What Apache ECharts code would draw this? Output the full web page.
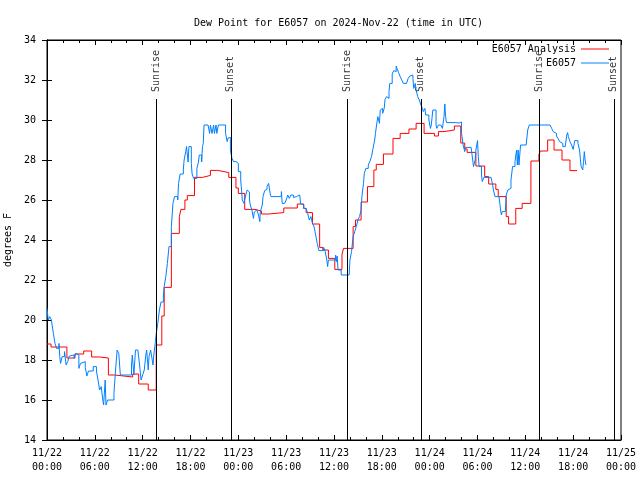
<!DOCTYPE html>
<html><head><meta charset="utf-8">
<script src="https://cdn.jsdelivr.net/npm/echarts@6/dist/echarts.min.js"></script>
<style>html,body{margin:0;padding:0;background:#fff}#c{width:640px;height:480px}</style>
</head><body><div id="c"></div>
<script>
const FONT = '"DejaVu Sans Mono", "Liberation Mono", monospace';
const titleText = 'Dew Point for E6057 on 2024-Nov-22 (time in UTC)';
const yAxisName = 'degrees F';
const dayLabels = ['11/22', '11/23', '11/24', '11/25'];
const seriesNames = ['E6057 Analysis', 'E6057'];

// hours since 2024-11-22 00:00 UTC
const analysisHours = [0,0.5,2.5,3.5,4.6,5.6,6.6,7.7,8.5,10.75,11.5,12.7,13.7,14.4,14.7,15.6,16.6,16.8,17.3,17.6,18.5,19.5,20.5,21.4,22.2,22.8,23.7,24.0,24.8,26.1,26.9,27.8,29.7,31.4,32.2,32.5,33.3,34.2,34.6,35.3,36.1,37.0,37.2,38.4,38.7,39.4,40.2,41.0,41.3,42.2,43.4,44.3,45.4,46.3,47.3,48.6,49.1,49.8,51.1,51.9,52.4,52.7,53.8,54.9,55.4,56.3,56.6,57.6,57.9,58.8,59.6,60.7,61.7,61.9,62.8,63.6,64.6,65.6,66.5];
const analysisValues = [18.8,18.65,18.1,18.3,18.45,18.15,18.1,17.25,17.15,17.3,16.8,16.5,18.75,20.2,21.63,24.33,25.17,25.53,26.0,26.22,27.13,27.23,27.48,27.42,27.37,27.13,26.6,26.33,25.53,25.45,25.3,25.37,25.6,25.8,25.58,25.37,24.8,23.63,23.5,23.08,22.53,23.28,23.58,24.67,25.0,25.9,26.67,27.5,27.78,28.3,29.08,29.33,29.55,29.83,29.33,29.2,29.42,29.5,29.7,28.85,28.55,28.38,27.7,27.17,26.8,26.53,26.17,25.17,24.8,25.58,25.83,27.95,28.28,28.45,29.0,28.5,28.0,27.47,27.47];

const obsHours = [0,0.15,0.35,0.55,0.8,1.0,1.2,1.5,1.6,1.7,1.9,2.2,2.4,2.6,2.8,3.0,3.4,3.6,3.8,4.0,4.2,4.4,4.8,5.0,5.2,5.8,6.2,6.4,6.6,6.8,7.0,7.1,7.3,7.4,7.6,8.4,8.6,8.8,9.0,9.2,10.6,10.7,10.9,11.1,11.4,11.6,11.8,12.0,12.2,12.4,12.5,12.7,12.8,13.0,13.1,13.3,13.4,13.6,13.7,13.9,14.1,14.3,14.6,14.7,14.9,15.1,15.3,15.6,15.8,16.0,16.4,16.5,16.7,17.1,17.2,17.4,17.5,17.7,17.8,18.0,18.1,18.2,18.4,18.8,19.0,19.1,19.4,19.5,19.6,19.7,20.2,20.4,20.5,20.7,20.9,21.0,21.2,21.3,21.5,22.0,22.2,22.4,22.6,22.7,22.9,23.0,23.2,23.4,23.7,24.0,24.3,24.5,24.7,24.9,25.1,25.2,25.4,25.5,25.7,25.9,26.0,26.1,26.3,26.5,26.7,26.75,26.9,27.0,27.1,27.3,27.4,27.6,27.8,28.0,28.1,29.1,29.4,29.5,29.8,30.0,30.2,30.4,30.6,30.9,31.1,31.3,31.5,31.7,31.8,32.0,32.2,32.5,32.7,32.9,33.1,33.3,33.5,33.7,33.9,34.1,34.7,34.9,35.1,35.2,35.3,36.2,36.3,36.4,36.5,36.9,37.9,38.0,38.2,38.4,38.6,38.8,39.0,39.2,39.4,39.5,39.7,39.8,40.0,40.3,40.5,40.7,40.9,41.1,41.2,41.4,41.5,41.7,41.8,42.0,42.1,42.3,42.4,42.6,42.8,42.9,43.0,43.3,43.5,43.7,43.8,43.9,44.1,44.3,44.5,44.7,45.1,45.3,45.5,45.7,45.9,46.0,46.2,46.3,46.5,46.7,46.9,47.1,47.2,47.4,47.5,47.9,48.1,48.2,48.4,48.6,48.8,48.9,49.1,49.4,49.6,49.8,49.9,50.0,50.1,51.2,51.7,52.0,52.2,52.4,52.5,53.2,53.4,53.5,53.7,53.8,54.0,54.1,54.2,54.4,54.5,54.6,54.8,55.7,55.9,56.0,56.2,56.7,56.8,56.9,57.0,57.1,57.5,57.6,57.8,58.0,58.2,58.4,58.7,58.9,59.0,59.1,59.2,59.4,60.1,60.3,60.5,63.1,63.3,63.5,63.7,63.9,64.1,64.3,64.5,64.7,65.0,65.2,65.3,65.4,65.6,65.8,66.0,66.2,66.4,66.6,66.8,66.9,67.0,67.2,67.3,67.4,67.5,67.6];
const obsValues = [20.58,20.0,20.17,20.0,19.33,18.83,18.58,18.83,18.17,17.83,18.17,18.42,17.75,17.92,18.2,18.25,18.08,18.33,18.25,17.58,17.83,17.92,17.63,17.2,17.45,17.67,17.45,17.0,16.5,16.67,16.0,15.75,17.0,15.75,16.0,16.33,17.5,18.5,18.33,17.25,17.75,18.25,17.25,18.5,18.4,17.8,17.0,17.25,17.5,18.25,18.5,17.5,18.17,18.5,18.25,17.75,18.25,18.92,19.33,19.83,20.5,20.9,21.2,21.67,22.17,22.83,23.67,24.67,25.83,26.17,26.0,26.83,27.3,27.5,28.0,28.42,28.67,27.9,28.67,28.67,27.83,27.3,27.08,27.58,27.9,28.25,27.9,28.67,28.83,29.75,29.75,29.33,29.75,29.33,29.75,29.33,29.75,29.33,29.75,29.83,29.75,29.33,28.92,29.1,29.13,28.5,28.08,27.92,27.83,27.42,27.0,26.0,25.83,26.2,26.5,26.4,26.0,25.75,25.5,25.08,25.4,25.5,25.53,25.3,24.92,25.4,25.4,25.75,26.17,26.47,26.53,26.67,26.83,26.3,26.17,26.2,26.42,25.83,25.75,26.0,26.25,26.08,26.25,26.13,26.17,26.08,26.25,26.3,25.83,25.75,25.58,25.5,25.33,25.0,25.17,24.83,24.67,24.25,23.83,23.47,23.63,23.42,23.0,22.67,23.0,23.25,22.92,23.2,22.5,22.25,22.25,23.0,23.42,24.17,24.42,24.67,25.0,25.17,25.5,26.17,26.83,27.33,27.58,27.75,27.92,28.17,28.58,29.0,29.33,29.92,30.17,29.83,30.5,30.58,30.33,30.58,31.03,31.17,31.08,31.42,31.83,32.3,32.47,32.42,32.7,32.58,32.37,32.17,32.0,31.83,31.87,32.08,32.2,32.25,32.08,31.58,31.83,31.5,31.17,31.0,30.75,30.58,30.42,30.58,30.25,30.0,29.58,29.75,30.5,30.5,29.75,29.58,29.75,29.8,29.58,30.17,30.8,30.17,29.87,29.85,29.9,29.33,28.75,28.42,28.63,28.63,28.0,27.67,28.0,28.5,28.97,28.17,27.67,27.67,27.25,26.92,27.13,27.17,26.75,26.5,26.17,26.2,25.83,25.5,25.25,25.42,25.5,26.25,26.5,26.58,27.0,27.67,27.92,28.5,27.75,28.5,27.75,28.75,28.75,29.5,29.75,29.75,29.58,29.42,29.33,29.2,29.08,28.92,28.83,28.67,28.67,29.25,29.37,29.17,28.92,28.75,28.53,28.97,28.97,28.83,28.5,28.08,27.67,27.5,27.92,28.42,28.0,27.75];

const eventHours = [13.7, 23.05, 37.7, 46.9, 61.8, 71.1];
const eventNames = ['Sunrise', 'Sunset', 'Sunrise', 'Sunset', 'Sunrise', 'Sunset'];
const eventLineTop = 31.05;
const eventLabelAt = 31.4;

const zip = (a, b) => a.map((v, i) => [v, b[i]]);
const txt = { fontFamily: FONT, fontSize: 10, color: '#000' };
const black = { color: '#000', width: 1 };

const xCommon = {
  type: 'value', min: 0, max: 72, interval: 6,
  axisLine: { show: true, lineStyle: black },
  axisTick: { show: true, inside: true, length: 5, lineStyle: black },
  minorTick: { show: true, splitNumber: 3, length: 3, lineStyle: black },
  splitLine: { show: false }, minorSplitLine: { show: false }
};
const yCommon = {
  type: 'value', min: 14, max: 34, interval: 2,
  axisLine: { show: true, lineStyle: black },
  axisTick: { show: true, inside: true, length: 5, lineStyle: black },
  splitLine: { show: false }
};

const chart = echarts.init(document.getElementById('c'), null, { renderer: 'canvas' });
chart.setOption({
  animation: false,
  backgroundColor: '#fff',
  title: { text: titleText, left: 189, top: 13, textStyle: Object.assign({ fontWeight: 'normal' }, txt) },
  legend: {
    data: seriesNames, orient: 'vertical', right: 26, top: 37, align: 'right',
    icon: 'rect', itemWidth: 28, itemHeight: 1, itemGap: 0,
    textStyle: Object.assign({ lineHeight: 14 }, txt)
  },
  grid: { left: 47, right: 19, top: 40, bottom: 40, containLabel: false, outerBoundsMode: 'none',
    show: true, borderColor: '#000', borderWidth: 1 },
  xAxis: [
    Object.assign({}, xCommon, {
      position: 'bottom',
      axisLabel: Object.assign({ lineHeight: 14, margin: 6,
        formatter: v => dayLabels[Math.floor(v / 24)] + '\n' + String(v % 24).padStart(2, '0') + ':00' }, txt)
    }),
    Object.assign({}, xCommon, { position: 'top', axisLabel: { show: false } })
  ],
  yAxis: [
    Object.assign({}, yCommon, {
      position: 'left', name: yAxisName, nameLocation: 'middle', nameGap: 30, nameRotate: 90,
      nameTextStyle: txt, axisLabel: Object.assign({ margin: 11 }, txt)
    }),
    Object.assign({}, yCommon, { position: 'right', axisLabel: { show: false } })
  ],
  series: [
    { name: seriesNames[0], type: 'line', step: 'end', showSymbol: false, symbol: 'none',
      data: zip(analysisHours, analysisValues), itemStyle: { color: '#ff0000' },
      lineStyle: { color: '#ff0000', width: 1 } },
    { name: seriesNames[1], type: 'line', step: 'end', showSymbol: false, symbol: 'none',
      data: zip(obsHours, obsValues), itemStyle: { color: '#0080ff' },
      lineStyle: { color: '#0080ff', width: 1 } },
    { name: 'events', type: 'scatter', symbolSize: 0, silent: true,
      data: eventHours.map((h, i) => ({ value: [h, eventLabelAt], name: eventNames[i] })),
      label: Object.assign({ show: true, position: 'inside', formatter: p => p.name, rotate: 90,
        align: 'left', verticalAlign: 'middle', textBorderWidth: 0 }, txt),
      markLine: {
        silent: true, symbol: ['none', 'none'], label: { show: false },
        lineStyle: { color: '#000', width: 1, type: 'solid' },
        data: eventHours.map(h => [{ coord: [h, 14] }, { coord: [h, eventLineTop] }])
      }
    }
  ]
});
</script></body></html>
